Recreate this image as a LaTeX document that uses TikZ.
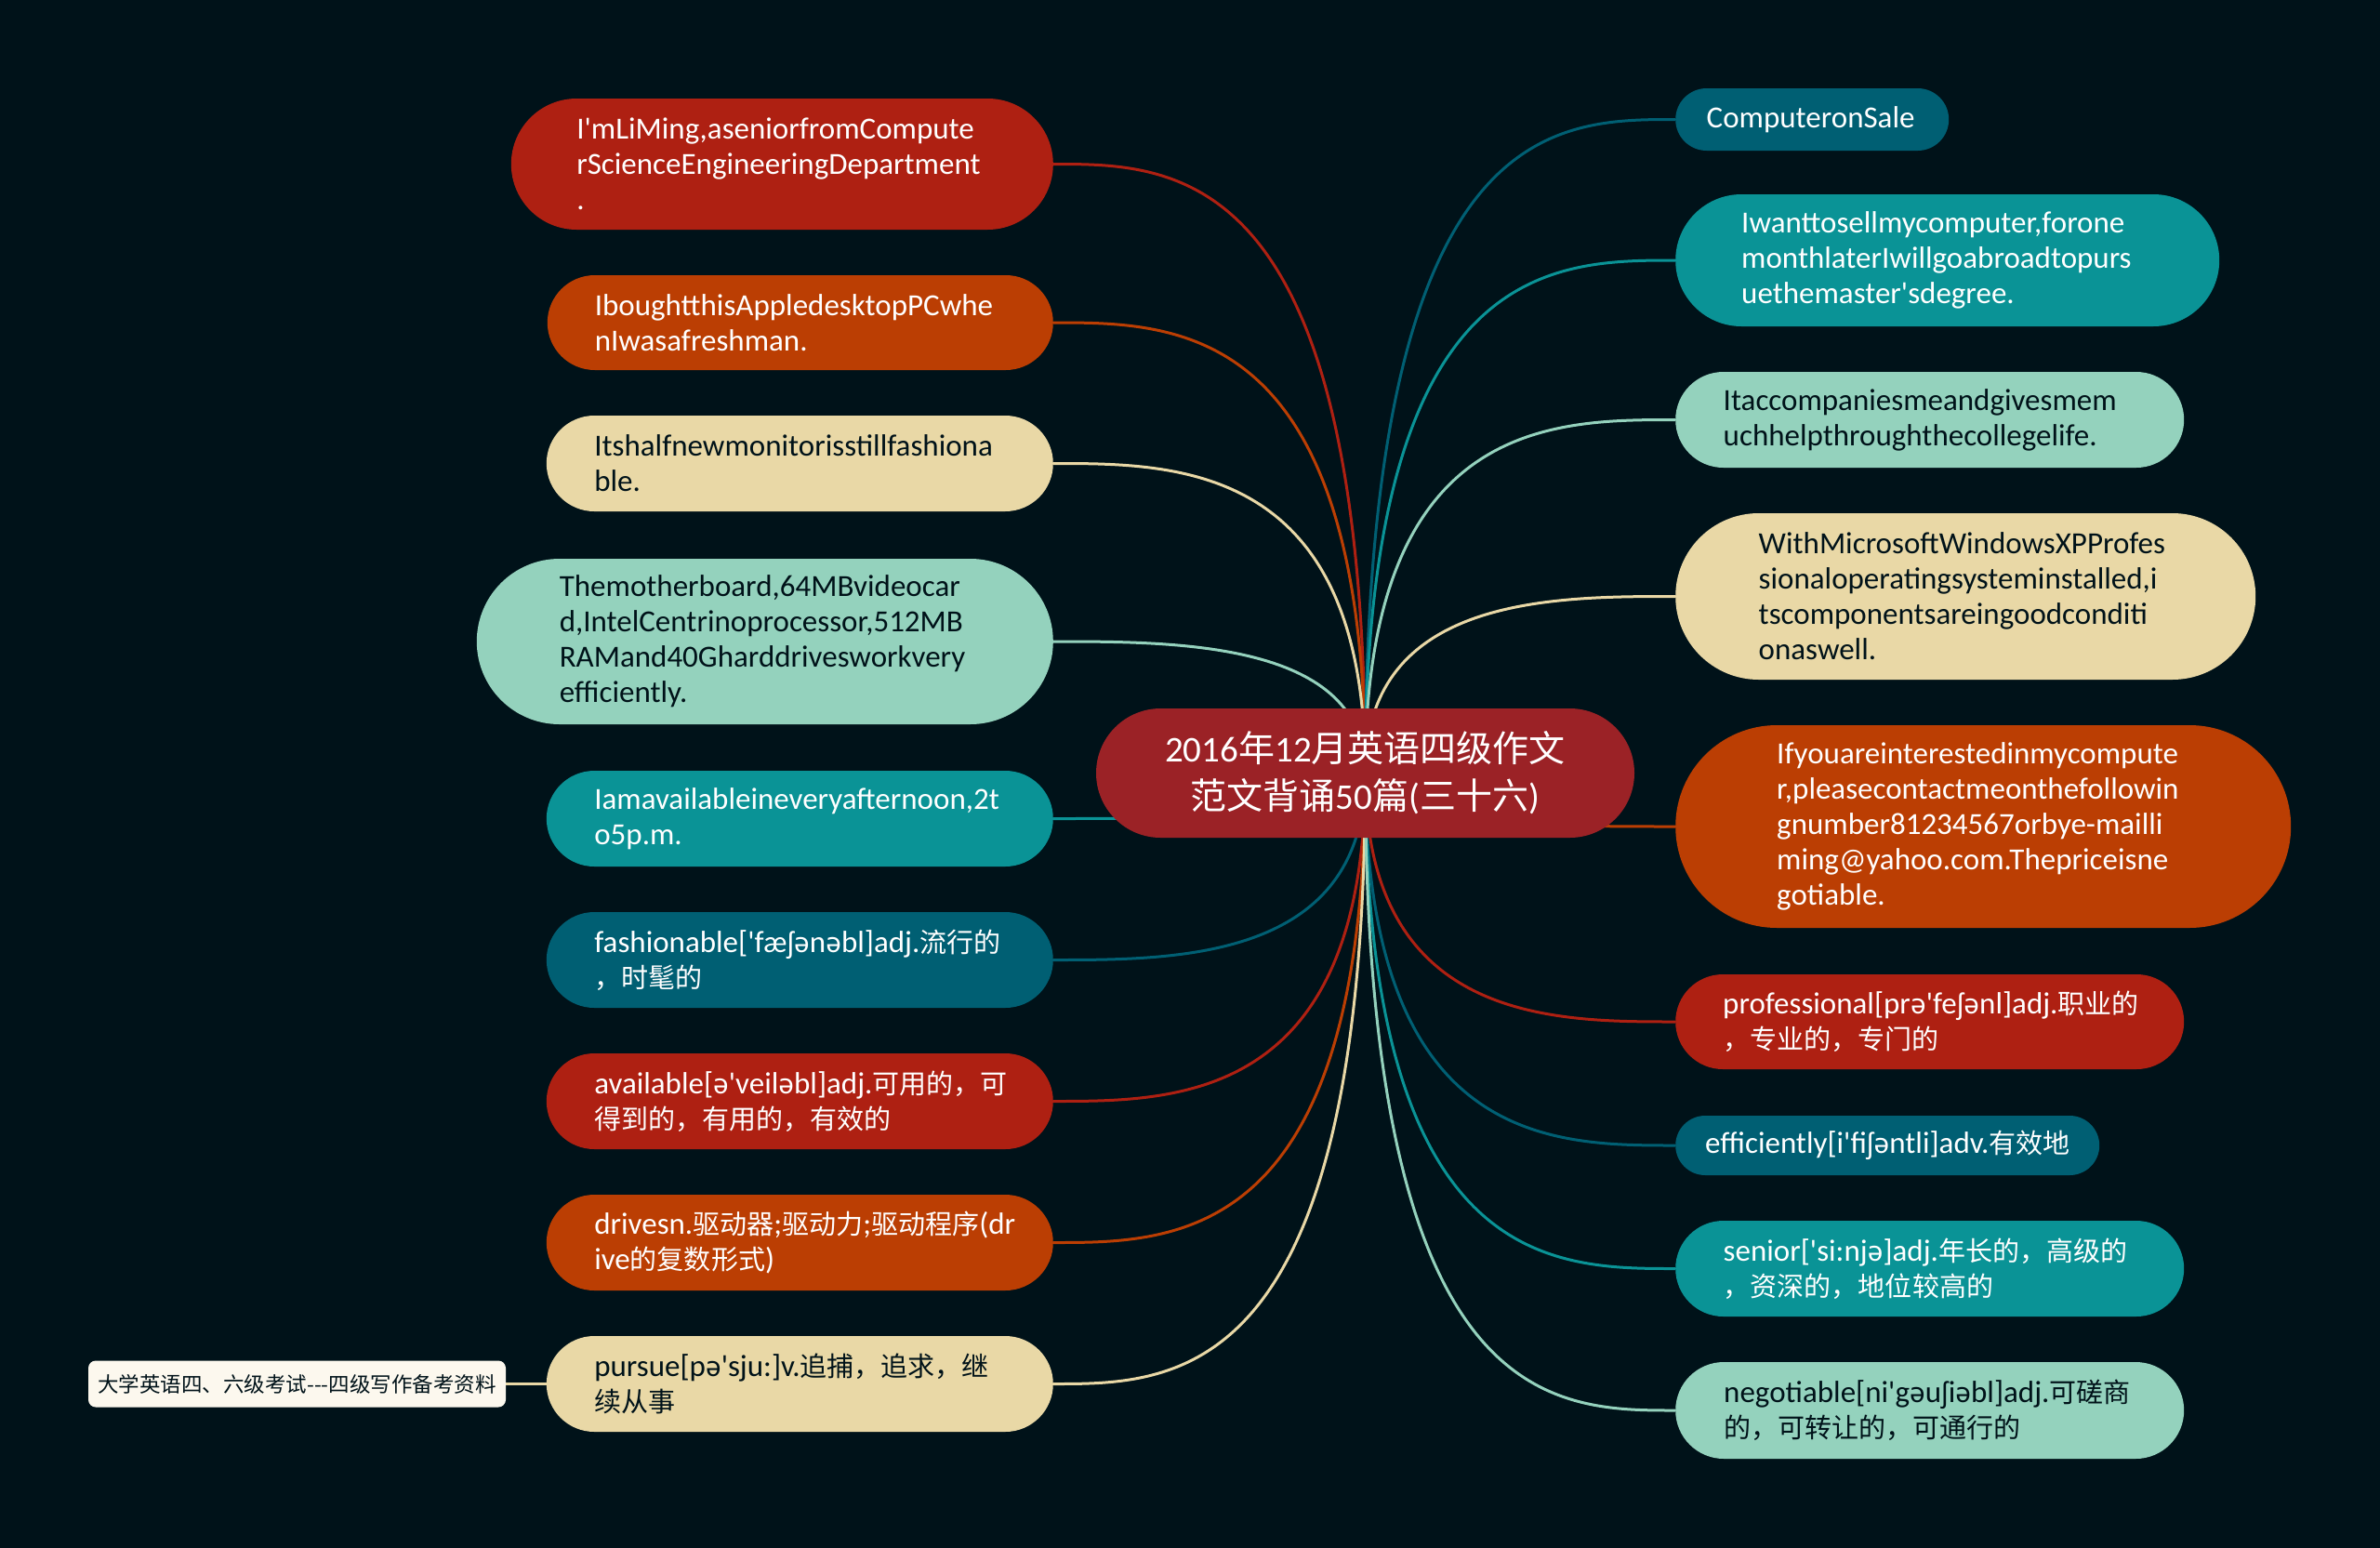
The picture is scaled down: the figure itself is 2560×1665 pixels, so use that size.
\documentclass[tikz,border=0pt]{standalone}
\usepackage{fontspec}
\setmainfont{Carlito}[Ligatures=TeXOff]
\newfontfamily\zhf{Noto Sans CJK SC}[Scale=0.88]
\newfontfamily\zhB{Noto Sans CJK SC}
\newfontfamily\ipaf{Noto Sans}[Scale=0.9]
\usetikzlibrary{calc}
\hyphenpenalty=10000
\exhyphenpenalty=10000
\pgfdeclarelayer{back}
\pgfdeclarelayer{links}
\pgfsetlayers{back,links,main}
\definecolor{cBg}{HTML}{001219}
\definecolor{cDTeal}{HTML}{005F73}
\definecolor{cTeal}{HTML}{0A9396}
\definecolor{cMint}{HTML}{94D2BD}
\definecolor{cBeige}{HTML}{E9D8A6}
\definecolor{cOrange}{HTML}{BB3E03}
\definecolor{cRed}{HTML}{AE2012}
\definecolor{cCenter}{HTML}{9B2226}
\definecolor{cDark}{HTML}{001219}
\definecolor{cLabel}{HTML}{FCF8EE}
\newcommand\zh[1]{{\zhf #1}}
\newcommand\sch{{\ipaf ə}}
\newcommand\esh{{\ipaf ʃ}}
\newcommand\lnk[2]{\draw[link,#2] (C.center) .. controls (C.center |- #1) and ($(#1)!0.4!(C.center |- #1)$) .. (#1);}
\tikzset{
  pill/.style 2 args={rectangle, rounded corners=#2, minimum height=#1, inner xsep=#2, inner ysep=0pt,
    text width=442pt, align=left, font=\fontsize{33}{38}\selectfont},
  lt/.style={text=white},
  dk/.style={text=cDark},
  link/.style={line width=3pt},
}
\begin{document}
\begin{tikzpicture}[x=1pt,y=-1pt]
\useasboundingbox (0,0) rectangle (2560,1665);
\begin{pgfonlayer}{back}
\fill[cBg] (0,0) rectangle (2560,1665);
\end{pgfonlayer}

% center
\node[rectangle, rounded corners=69.5pt, minimum height=139pt, inner xsep=69.5pt, inner ysep=0pt,
  text width=440pt, align=center, fill=cCenter, text=white,
  font=\fontsize{39}{51}\selectfont] (C) at (1468.5,831.5)
  {2016{\zhB 年}12{\zhB 月英语四级作文}\\{\zhB 范文背诵}50{\zhB 篇}({\zhB 三十六})};

% left nodes
\node[pill={141pt}{70.5pt}, fill=cRed, lt, anchor=east] (L1) at (1133,176.5)
  {I'mLiMing,aseniorfromCompute\\rScienceEngineeringDepartment\\.};
\node[pill={102pt}{51pt}, fill=cOrange, lt, anchor=east] (L2) at (1133,347)
  {IboughtthisAppledesktopPCwhe\\nIwasafreshman.};
\node[pill={103pt}{51.5pt}, fill=cBeige, dk, anchor=east] (L3) at (1133,498.5)
  {Itshalfnewmonitorisstillfashiona\\ble.};
\node[pill={178pt}{89pt}, fill=cMint, dk, anchor=east] (L4) at (1133,690)
  {Themotherboard,64MBvideocar\\d,IntelCentrinoprocessor,512MB\\RAMand40Gharddrivesworkvery\\efficiently.};
\node[pill={103pt}{51.5pt}, fill=cTeal, lt, anchor=east] (L5) at (1133,880.5)
  {Iamavailableineveryafternoon,2t\\o5p.m.};
\node[pill={103pt}{51.5pt}, fill=cDTeal, lt, anchor=east] (L6) at (1133,1032.5)
  {fashionable['fæ\esh\sch n\sch bl]adj.\zh{流行的}\\\zh{，时髦的}};
\node[pill={103pt}{51.5pt}, fill=cRed, lt, anchor=east] (L7) at (1133,1184.5)
  {available[\sch'veil\sch bl]adj.\zh{可用的，可}\\\zh{得到的，有用的，有效的}};
\node[pill={103pt}{51.5pt}, fill=cOrange, lt, anchor=east] (L8) at (1133,1336.5)
  {drivesn.\zh{驱动器};\zh{驱动力};\zh{驱动程序}(dr\\ive\zh{的复数形式})};
\node[pill={103pt}{51.5pt}, fill=cBeige, dk, anchor=east] (L9) at (1133,1488.5)
  {pursue[p\sch'sju:]v.\zh{追捕，追求，继}\\\zh{续从事}};

% tag
\node[rectangle, rounded corners=8pt, fill=cLabel, text=cDark, minimum width=449pt, minimum height=50pt,
  inner sep=0pt, font=\fontsize{22.5}{27}\selectfont\zhB] (T) at (319.5,1488.5)
  {大学英语四、六级考试---四级写作备考资料};

% right nodes
\node[pill={67pt}{33.5pt}, fill=cDTeal, lt, anchor=west, text width=227pt] (R1) at (1802,128.5)
  {ComputeronSale};
\node[pill={142pt}{71pt}, fill=cTeal, lt, anchor=west, text width=443pt] (R2) at (1802,280)
  {Iwanttosellmycomputer,forone\\monthlaterIwillgoabroadtopurs\\uethemaster'sdegree.};
\node[pill={103pt}{51.5pt}, fill=cMint, dk, anchor=west, text width=444pt] (R3) at (1802,451.5)
  {Itaccompaniesmeandgivesmem\\uchhelpthroughthecollegelife.};
\node[pill={179pt}{89.5pt}, fill=cBeige, dk, anchor=west, text width=445pt] (R4) at (1802,641.5)
  {WithMicrosoftWindowsXPProfes\\sionaloperatingsysteminstalled,i\\tscomponentsareingoodconditi\\onaswell.};
\node[pill={218pt}{109pt}, fill=cOrange, lt, anchor=west, text width=444pt] (R5) at (1802,889)
  {Ifyouareinterestedinmycompute\\r,pleasecontactmeonthefollowin\\gnumber81234567orbye-mailli\\ming@yahoo.com.Thepriceisne\\gotiable.};
\node[pill={102pt}{51pt}, fill=cRed, lt, anchor=west, text width=445pt] (R6) at (1802,1099)
  {professional[pr\sch'fe\esh\sch nl]adj.\zh{职业的}\\\zh{，专业的，专门的}};
\node[pill={64pt}{32pt}, fill=cDTeal, lt, anchor=west, text width=392pt] (R7) at (1802,1232)
  {efficiently[i'fi\esh\sch ntli]adv.\zh{有效地}};
\node[pill={103pt}{51.5pt}, fill=cTeal, lt, anchor=west, text width=444pt] (R8) at (1802,1364.5)
  {senior['si:nj\sch]adj.\zh{年长的，高级的}\\\zh{，资深的，地位较高的}};
\node[pill={104pt}{52pt}, fill=cMint, dk, anchor=west, text width=443pt] (R9) at (1802,1517)
  {negotiable[ni'g\sch u\esh i\sch bl]adj.\zh{可磋商}\\\zh{的，可转让的，可通行的}};

\begin{pgfonlayer}{links}
\lnk{L1.east}{cRed}
\lnk{L2.east}{cOrange}
\lnk{L3.east}{cBeige}
\lnk{L4.east}{cMint}
\lnk{L5.east}{cTeal}
\lnk{L6.east}{cDTeal}
\lnk{L7.east}{cRed}
\lnk{L8.east}{cOrange}
\lnk{L9.east}{cBeige}
\lnk{R1.west}{cDTeal}
\lnk{R2.west}{cTeal}
\lnk{R3.west}{cMint}
\lnk{R4.west}{cBeige}
\lnk{R5.west}{cOrange}
\lnk{R6.west}{cRed}
\lnk{R7.west}{cDTeal}
\lnk{R8.west}{cTeal}
\lnk{R9.west}{cMint}
\draw[link,cBeige] (T.east) -- (L9.west);
\end{pgfonlayer}
\end{tikzpicture}
\end{document}
